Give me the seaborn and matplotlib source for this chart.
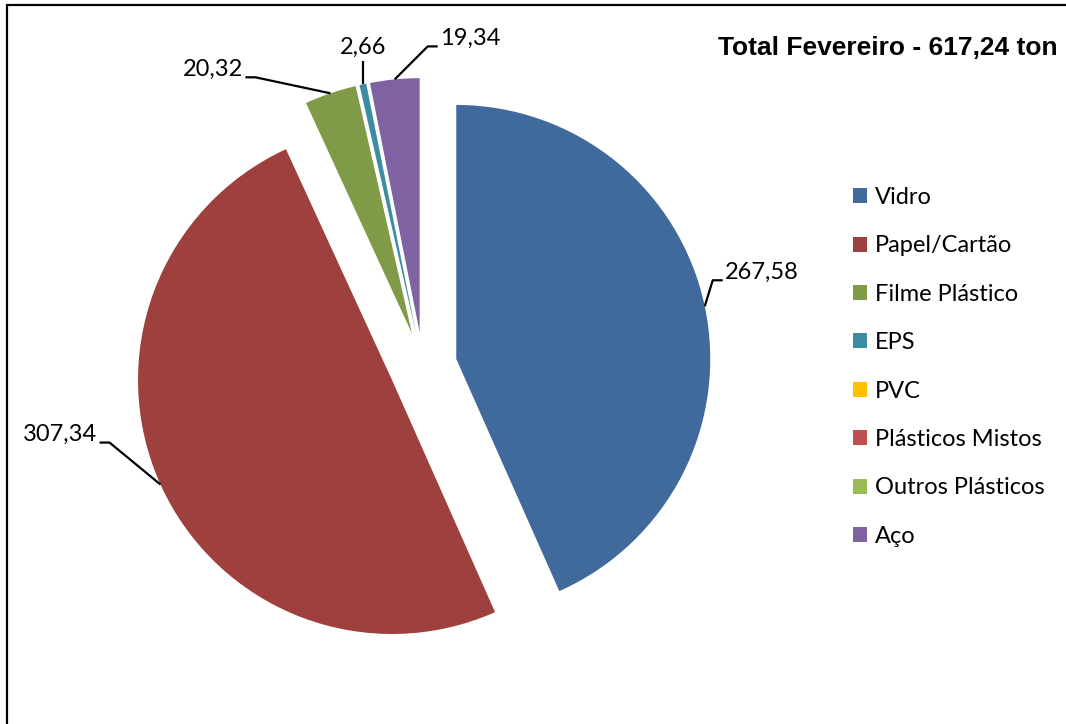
import numpy as np
import matplotlib.pyplot as plt
from matplotlib.patches import Rectangle
import seaborn as sns

categories = ["Vidro", "Papel/Cartão", "Filme Plástico", "EPS", "PVC",
              "Plásticos Mistos", "Outros Plásticos", "Aço"]
values = [267.58, 307.34, 20.32, 2.66, 0.0, 0.0, 0.0, 19.34]
title = "Total Fevereiro - 617,24 ton"

colors = ["#406A9C", "#9E413E", "#7F9B48", "#3C8DA3", "#FFC000",
          "#C0504D", "#9BBB59", "#7F62A1"]

# leader line layout per slice: (elbow dx, elbow dy, side) in pixels
leaders = {0: (8, 26, 1), 1: (-51, 42, -1), 2: (-75, 16, -1),
           3: (0, 23, 0), 7: (33, 33, 1)}

sns.set_theme(style="white")
plt.rcParams["font.family"] = ["Lato", "DejaVu Sans"]
plt.rcParams["text.color"] = "black"

W, H = 1066, 724
fig = plt.figure(figsize=(W / 100, H / 100), dpi=100)
ax = fig.add_axes([0, 0, 1, 1])

wedges, _ = ax.pie(values, colors=colors, startangle=90, counterclock=False,
                   center=(423, 358), radius=254, explode=[34] * len(values),
                   wedgeprops=dict(linewidth=0))
ax.set_xlim(0, W)
ax.set_ylim(0, H)
ax.set_aspect("equal")
ax.axis("off")

# data labels with Excel-like leader lines
for i, (dx, dy, side) in leaders.items():
    w = wedges[i]
    ang = np.deg2rad((w.theta1 + w.theta2) / 2)
    x0 = w.center[0] + w.r * np.cos(ang)
    y0 = w.center[1] + w.r * np.sin(ang)
    x1, y1 = x0 + dx, y0 + dy
    x2 = x1 + 10 * side
    ax.plot([x0, x1, x2], [y0, y1, y1], color="black", lw=1.6,
            solid_capstyle="butt")
    txt = f"{values[i]:.2f}".replace(".", ",")
    if side == 0:
        ax.text(x1, y1 + 14, txt, ha="center", va="center", fontsize=17)
    else:
        ax.text(x2 + 2 * side, y1 + 8, txt, ha="left" if side > 0 else "right",
                va="center", fontsize=17)

ax.text(888, H - 48, title, ha="center", va="center", fontsize=19,
        fontweight="bold", family=["Liberation Sans", "DejaVu Sans"])

# chart frame (right and bottom edges fall outside the image)
ax.add_patch(Rectangle((7, -20), W + 50, H - 5 + 20, fill=False,
                       edgecolor="black", lw=1.6, clip_on=False))

ax.legend(wedges, categories, loc="upper left",
          bbox_to_anchor=(853 / W, 1 - 187 / H), frameon=False,
          fontsize=17, handlelength=0.6, handleheight=0.6,
          handletextpad=0.34, labelspacing=1.16, borderpad=0,
          borderaxespad=0)

fig.savefig("out.png", dpi=100)
